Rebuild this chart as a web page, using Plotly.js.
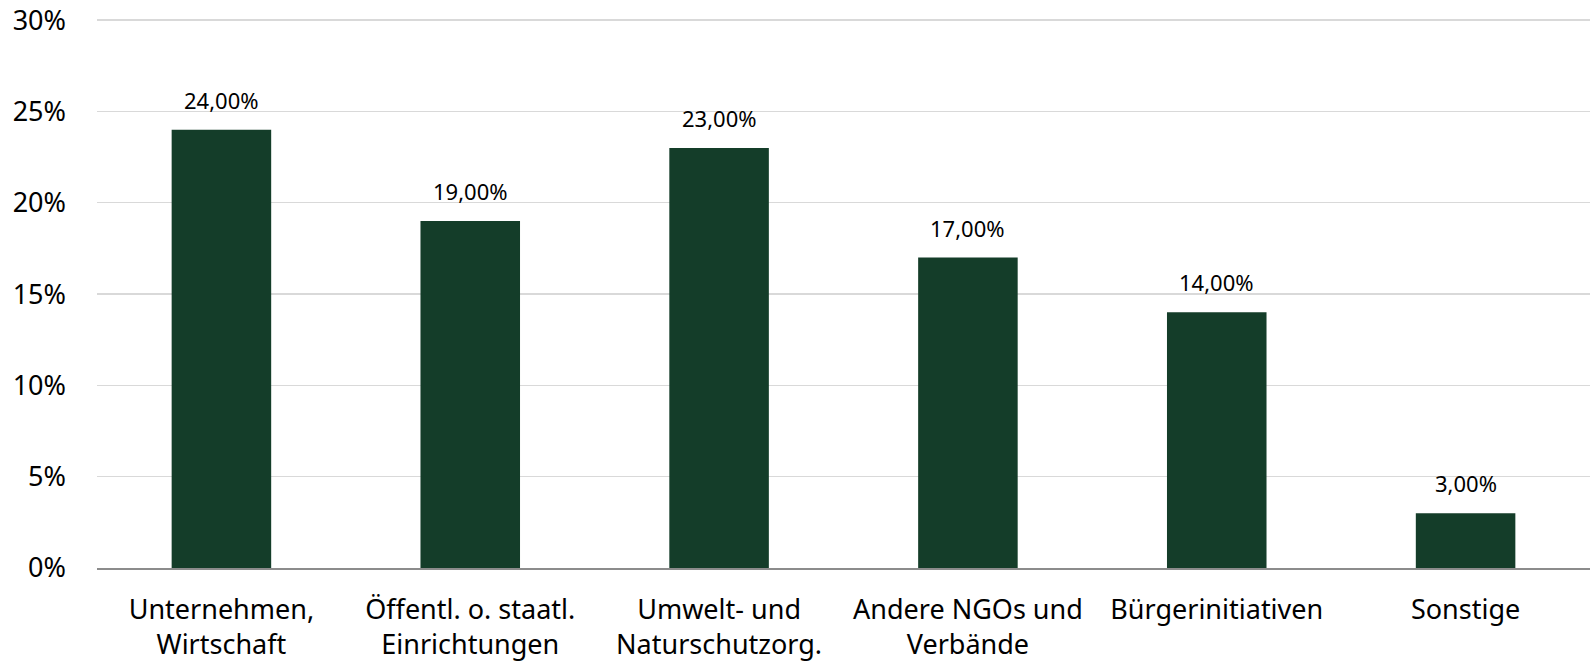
<!DOCTYPE html>
<html>
<head>
<meta charset="utf-8">
<script src="https://cdn.plot.ly/plotly-3.0.1.min.js"></script>
<style>html,body{margin:0;padding:0;background:#fff;}#chart{width:1590px;height:665px;}</style>
</head>
<body>
<div id="chart"></div>
<script>
const categories = [
  "Unternehmen,<br>Wirtschaft",
  "Öffentl. o. staatl.<br>Einrichtungen",
  "Umwelt- und<br>Naturschutzorg.",
  "Andere NGOs und<br>Verbände",
  "Bürgerinitiativen",
  "Sonstige"
];
const values = [0.24, 0.19, 0.23, 0.17, 0.14, 0.03];
const valueLabels = ["24,00%", "19,00%", "23,00%", "17,00%", "14,00%", "3,00%"];
const yTickVals = [0, 0.05, 0.10, 0.15, 0.20, 0.25, 0.30];
const yTickText = ["0%", "5%", "10%", "15%", "20%", "25%", "30%"];

const FONT = "Noto Sans, sans-serif";

const trace = {
  type: "bar",
  x: categories,
  y: values,
  marker: {color: "#143D29"},
  width: 0.4,
  hoverinfo: "skip"
};

const annotations = categories.map((c, i) => ({
  x: c, y: values[i], xref: "x", yref: "y",
  text: valueLabels[i], showarrow: false,
  yanchor: "bottom", yshift: 13,
  font: {family: FONT, size: 22, color: "#000"}
}));

const layout = {
  width: 1590, height: 665,
  margin: {l: 97, r: 0, t: 19, b: 97},
  paper_bgcolor: "#fff", plot_bgcolor: "#fff",
  showlegend: false,
  bargap: 0.6,
  xaxis: {
    type: "category",
    showgrid: false,
    showline: true, linecolor: "#8c8c8c", linewidth: 1.5,
    ticks: "", ticklabelstandoff: 17,
    tickfont: {family: FONT, size: 27, color: "#000"},
    fixedrange: true
  },
  yaxis: {
    range: [0, 0.3006],
    tickvals: yTickVals, ticktext: yTickText,
    showgrid: true, gridcolor: "#d9d9d9", gridwidth: 1.5,
    zeroline: false, showline: false,
    ticks: "", ticklabelstandoff: 30,
    tickfont: {family: FONT, size: 27, color: "#000"},
    fixedrange: true
  },
  annotations: annotations
};

Plotly.newPlot("chart", [trace], layout, {displayModeBar: false, staticPlot: true});
</script>
</body>
</html>
